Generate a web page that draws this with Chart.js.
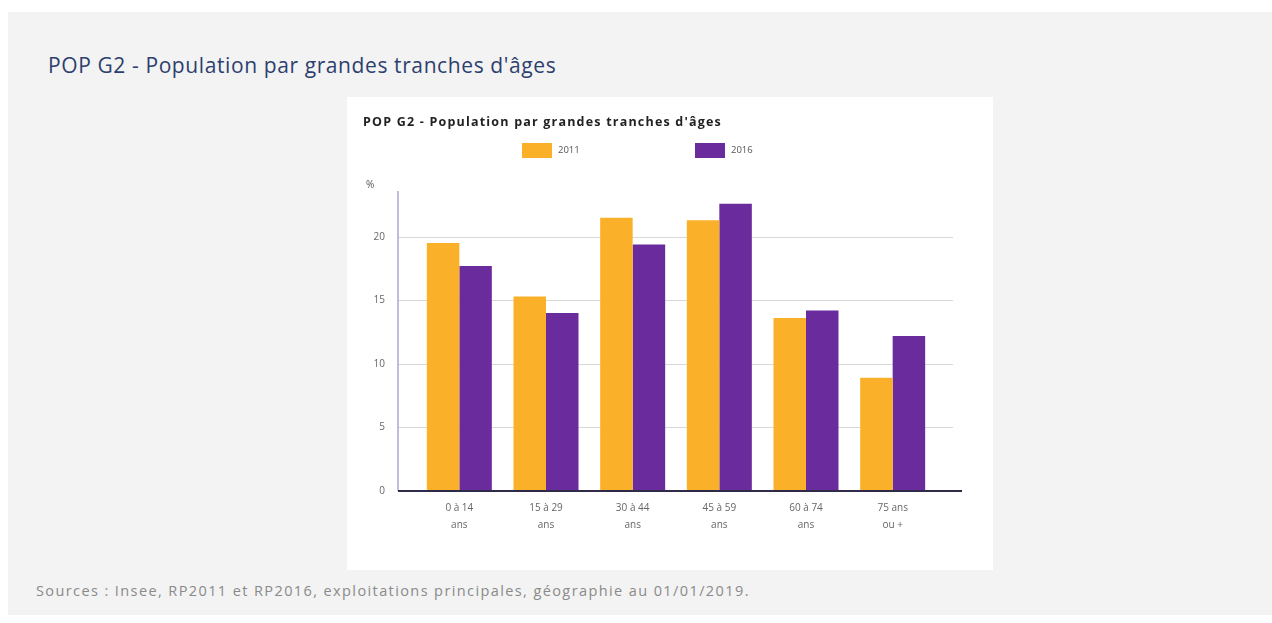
<!DOCTYPE html>
<html lang="fr">
<head>
<meta charset="utf-8">
<title>POP G2 - Population par grandes tranches d'âges</title>
<script src="https://cdn.jsdelivr.net/npm/chart.js@4.4.1/dist/chart.umd.min.js"></script>
<style>
    html, body { margin: 0; padding: 0; background: #ffffff; }
    body { width: 1272px; height: 623px; position: relative; overflow: hidden; font-family: 'Open Sans', sans-serif; }
    #panel { position: absolute; left: 8px; top: 12px; width: 1264px; height: 603px; background: #f3f3f3; }
    #heading { position: absolute; left: 48px; top: 51px; font-size: 21px; letter-spacing: 0.6px; color: #2d3f6e; white-space: nowrap; }
    #box { position: absolute; left: 347px; top: 97px; width: 646px; height: 473px; background: #ffffff; }
    #chart-wrap { position: absolute; left: 0; top: 0; width: 646px; height: 473px; }
    #inner-title { position: absolute; left: 16px; top: 16px; font-size: 12.5px; letter-spacing: 1.2px; font-weight: bold; color: #222; white-space: nowrap; }
    .legend-item { position: absolute; top: 46px; font-size: 9.5px; color: #555; white-space: nowrap; }
    .legend-item span.sw { display: inline-block; width: 30px; height: 15px; vertical-align: middle; margin-right: 6px; }
    #unit { position: absolute; left: 19px; top: 80px; font-size: 10px; color: #555; }
    #sources { position: absolute; left: 36px; top: 581px; font-size: 14.5px; letter-spacing: 1.4px; color: #8a8a8a; white-space: nowrap; }
</style>
</head>
<body>
<div id="panel"></div>
<div id="heading">POP G2 - Population par grandes tranches d'âges</div>
<div id="box">
    <div id="chart-wrap"><canvas id="pop-chart"></canvas></div>
    <div id="inner-title">POP G2 - Population par grandes tranches d'âges</div>
    <div class="legend-item" style="left:175px"><span class="sw" id="sw2011"></span>2011</div>
    <div class="legend-item" style="left:348px"><span class="sw" id="sw2016"></span>2016</div>
    <div id="unit">%</div>
</div>
<div id="sources">Sources : Insee, RP2011 et RP2016, exploitations principales, géographie au 01/01/2019.</div>

<script>
// Data
const ageGroups = [['0 à 14', 'ans'], ['15 à 29', 'ans'], ['30 à 44', 'ans'], ['45 à 59', 'ans'], ['60 à 74', 'ans'], ['75 ans', 'ou +']];
const pop2011 = [19.5, 15.3, 21.5, 21.3, 13.6, 8.9];
const pop2016 = [17.7, 14.0, 19.4, 22.6, 14.2, 12.2];
const yTicks = [0, 5, 10, 15, 20];

const COLOR_2011 = '#fbb02a';
const COLOR_2016 = '#6a2b9d';

document.getElementById('sw2011').style.background = COLOR_2011;
document.getElementById('sw2016').style.background = COLOR_2016;

// Grid and axis lines reach a bit past the category band, like the original
const axisLines = {
    id: 'axisLines',
    beforeDatasetsDraw(chart) {
        const { ctx, scales: { y }, chartArea } = chart;
        ctx.save();
        ctx.strokeStyle = '#d8d8d8';
        ctx.lineWidth = 1;
        yTicks.forEach(v => {
            if (v === 0) return;
            const py = Math.round(y.getPixelForValue(v)) + 0.5;
            ctx.beginPath();
            ctx.moveTo(chartArea.left - 18, py);
            ctx.lineTo(chartArea.right + 17, py);
            ctx.stroke();
        });
        ctx.restore();
    },
    afterDatasetsDraw(chart) {
        const { ctx, scales: { y }, chartArea } = chart;
        const y0 = y.getPixelForValue(0);
        ctx.save();
        ctx.strokeStyle = '#a9a9d3';
        ctx.lineWidth = 1.5;
        ctx.beginPath();
        ctx.moveTo(chartArea.left - 18, chartArea.top);
        ctx.lineTo(chartArea.left - 18, y0);
        ctx.stroke();
        ctx.strokeStyle = '#2e2a48';
        ctx.lineWidth = 2;
        ctx.beginPath();
        ctx.moveTo(chartArea.left - 18, y0);
        ctx.lineTo(chartArea.right + 26, y0);
        ctx.stroke();
        ctx.restore();
    }
};

new Chart(document.getElementById('pop-chart'), {
    type: 'bar',
    data: {
        labels: ageGroups,
        datasets: [
            { label: '2011', data: pop2011, backgroundColor: COLOR_2011 },
            { label: '2016', data: pop2016, backgroundColor: COLOR_2016 }
        ]
    },
    options: {
        responsive: true,
        maintainAspectRatio: false,
        animation: false,
        layout: { padding: { top: 94, right: 57, bottom: 0, left: 0 } },
        datasets: { bar: { barPercentage: 1, categoryPercentage: 0.75 } },
        plugins: {
            legend: { display: false },
            tooltip: { enabled: false }
        },
        scales: {
            x: {
                grid: { display: false, drawTicks: false },
                border: { display: false },
                afterFit: (scale) => { scale.height = 79; },
                ticks: {
                    padding: 9,
                    maxRotation: 0,
                    autoSkip: false,
                    color: '#666',
                    font: { family: "'Open Sans', sans-serif", size: 10, lineHeight: 1.7 }
                }
            },
            y: {
                min: 0,
                max: 23.6,
                grid: { display: false, drawTicks: false },
                border: { display: false },
                afterFit: (scale) => { scale.width = 69; },
                afterBuildTicks: (scale) => {
                    scale.ticks = yTicks.map(v => ({ value: v }));
                },
                ticks: {
                    padding: 31,
                    color: '#666',
                    font: { family: "'Open Sans', sans-serif", size: 10 }
                }
            }
        }
    },
    plugins: [axisLines]
});
</script>
</body>
</html>
